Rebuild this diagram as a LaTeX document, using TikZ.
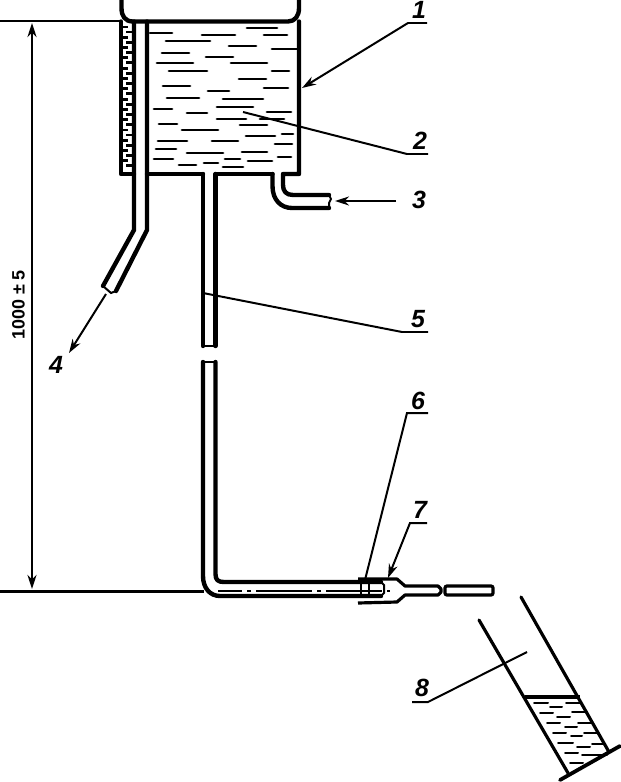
\documentclass[tikz,border=0pt]{standalone}
\usepackage{fontspec}
\setmainfont{Liberation Sans}
\usetikzlibrary{arrows.meta}
\begin{document}
\begin{tikzpicture}[
  x=1bp, y=-1bp,
  >={Stealth[length=14bp,width=9bp]},
  wall/.style={line width=4.4pt, line cap=round, line join=round},
  fine/.style={line width=2pt},
  leader/.style={line width=2pt},
  extline/.style={line width=3pt},
  liquid/.style={line width=2.9pt, line cap=round},
  number/.style={font=\fontsize{25}{25}\selectfont\bfseries\itshape, inner sep=0pt}
]
\useasboundingbox (0,0) rectangle (621,782);

% vessel
\draw[wall] (121.5,0) -- (121.5,8) .. controls (121.5,16) and (125,21.5) .. (133,21.5)
  -- (288,21.5) .. controls (295,21.5) and (299,16) .. (299,8) -- (299,0);
\draw[wall] (299,21.5) -- (299,174) -- (283,174) -- (283,185) .. controls (283,191) and (286,195) .. (293,195) -- (329,195);
\draw[wall] (272.5,174) -- (215.5,174);
\draw[wall] (203,174) -- (147,174);
\draw[wall] (272.5,174) -- (272.5,186) .. controls (272.5,200) and (281,208) .. (292,208) -- (329,208);
\draw[fine] (329,195) -- (331,199) -- (329,203) -- (329,208);

% scale beside the vessel
\draw[wall] (121,21.5) -- (121,174) -- (134,174);
\draw[wall] (134,21.5) -- (134,230) -- (103,286);
\draw[wall] (147,21.5) -- (147,230) -- (116,291);
\draw[fine] (103,286) -- (111,293) -- (116,291);
\foreach \y in {27,37.3,...,170} {
  \draw[line width=3pt] (121,\y) -- (128,\y);
  \draw[line width=3pt] (134,\y+5) -- (126,\y+5);
}

% outlet pipe
\draw[wall] (203,174) -- (203,346);
\draw[wall] (215.5,174) -- (215.5,346);
\draw[fine] (203,346) -- (215.5,346);
\draw[fine] (203,362) -- (215.5,362);
\draw[wall] (203,362) -- (203,576) .. controls (203,588) and (210,596) .. (220,596) -- (381,596);
\draw[wall] (215.5,362) -- (215.5,574) .. controls (215.5,580) and (218,582) .. (224,582) -- (381,582);
\draw[fine] (381,582) -- (384,585) -- (384,593) -- (381,596);
\draw[fine, dash pattern=on 56bp off 5bp on 4bp off 5bp, dash phase=32bp] (218,591) -- (390,591);

% hose and nozzle
\draw[line width=3.2pt, line join=round] (358,579) -- (397,579) -- (405,586) -- (438,586) -- (441,589) -- (441,592) -- (438,595) -- (405,595) -- (397,602) -- (358,603);
\draw[line width=3pt] (361,582) -- (361,596);
\draw[line width=3pt] (369,582) -- (369,596);
\draw[line width=3.2pt, rounded corners=2pt] (445,586) rectangle (493,595);

% beaker
\draw[line width=3.2pt, line cap=round] (479,620) -- (568,773);
\draw[line width=3.2pt, line cap=round] (521,597) -- (609,752);
\draw[line width=3.8pt, line cap=round] (560,780) -- (620,746);
\draw[line width=4.4pt] (525,697) -- (580,697);
\foreach \a/\b/\c in {534/548/703, 550/562/707, 566/580/703, 540/553/713, 557/570/717, 572/587/712,
  547/560/723, 565/577/727, 578/592/723, 553/566/733, 571/582/736, 584/598/733, 558/573/743,
  577/590/747, 592/605/744, 565/578/753, 582/597/755, 570/583/763, 597/607/755}
  \draw[line width=2pt, line cap=round] (\a,\c) -- (\b,\c);

% liquid in the vessel
\foreach \a/\b/\c in {150/172/33, 202/235/35, 247/277/28, 264/287/35, 166/210/41, 229/256/46,
  272/298/49, 162/189/53, 206/233/57, 157/193/63, 231/267/63, 169/207/71, 272/289/71, 239/266/79,
  163/190/86, 264/288/88, 208/229/91, 167/199/98, 223/263/99, 154/172/109, 217/253/107, 187/207/113,
  267/291/112, 217/246/119, 260/284/119, 159/177/124, 240/267/125, 182/218/130, 246/275/136,
  282/293/134, 158/187/141, 212/238/141, 275/292/144, 156/176/149, 187/223/153, 242/267/152,
  154/173/159, 278/291/157, 225/240/159, 248/272/161, 204/218/163, 179/196/165, 223/243/167}
  \draw[liquid] (\a,\c) -- (\b,\c);

% dimension
\draw[extline] (0,21) -- (121,21);
\draw[extline] (0,591) -- (204,591);
\draw[line width=2.8pt, <->] (32,23) -- (32,589);
\node[rotate=90, font=\fontsize{18}{18}\selectfont\bfseries, inner sep=0pt] (dimtext) at (18.5,305) {1000 ± 5};

% numbers
\node[number] (one) at (419,10) {1};
\node[number] (two) at (420,141) {2};
\node[number] (three) at (419,200) {3};
\node[number] (four) at (56,365) {4};
\node[number] (five) at (418,319) {5};
\node[number] (six) at (418,401) {6};
\node[number] (seven) at (420,510) {7};
\node[number] (eight) at (422,688) {8};

\coordinate (oneL) at (408,23);   \coordinate (oneR) at (427,23);
\coordinate (twoL) at (407,154);  \coordinate (twoR) at (428,154);
\coordinate (fiveL) at (402,332); \coordinate (fiveR) at (428,332);
\coordinate (sixL) at (407,413);  \coordinate (sixR) at (428,413);
\coordinate (sevenL) at (410,523);\coordinate (sevenR) at (427,523);
\coordinate (eightL) at (412,702);\coordinate (eightR) at (428,702);

\coordinate (vesselwall) at (302,88);
\coordinate (liquidpt) at (243,112);
\coordinate (inletend) at (335,201);
\coordinate (threeend) at (396,201);
\coordinate (overflow) at (106,294);
\coordinate (fourend) at (69,353);
\coordinate (pipept) at (203,293);
\coordinate (hosein) at (365,580);
\coordinate (hosetop) at (388,578);
\coordinate (beakerpt) at (527,652);

\draw[leader, ->] (oneR) -- (oneL) -- (vesselwall);
\draw[leader] (twoR) -- (twoL) -- (liquidpt);
\draw[leader, ->] (threeend) -- (inletend);
\draw[leader, ->] (overflow) -- (fourend);
\draw[leader] (fiveR) -- (fiveL) -- (pipept);
\draw[leader] (sixR) -- (sixL) -- (hosein);
\draw[leader, ->] (sevenR) -- (sevenL) -- (hosetop);
\draw[leader] (eightL) -- (eightR) -- (beakerpt);
\end{tikzpicture}
\end{document}
